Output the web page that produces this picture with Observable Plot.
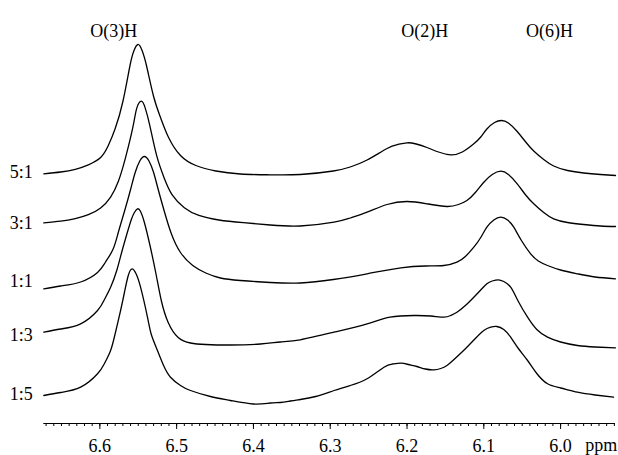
<!DOCTYPE html>
<html><head><meta charset="utf-8">
<script src="https://cdn.jsdelivr.net/npm/d3@7"></script>
<script src="https://cdn.jsdelivr.net/npm/@observablehq/plot@0.6"></script>
<style>html,body{margin:0;padding:0;background:#fff;}</style>
</head><body><div id="chart"></div>
<script>
// Sample ratios (top to bottom)
const ratios = ["5:1", "3:1", "1:1", "1:3", "1:5"];

// 5:1 trace
const ppm51 = [6.673,6.651,6.632,6.615,6.599,6.589,6.580,6.570,6.561,6.556,6.5505,6.545,6.539,6.530,6.521,6.5105,6.495,6.475,6.449,6.417,6.378,6.339,6.296,6.274,6.252,6.226,6.212,6.200,6.188,6.174,6.159,6.143,6.128,6.113,6.104,6.096,6.086,6.077,6.068,6.0565,6.046,6.035,6.022,6.009,5.991,5.970,5.948,5.9285];
const int51 = [249.7,251.5,254.2,258.7,266,278,295,322,357,372,379,373,357,327,306,286,268,258,252.5,249.5,248.7,249,252.5,256.5,263.5,275,279,280.7,279.5,276,271.5,268.7,271.5,279.7,286.5,294.5,301,303,300.5,292,282,272.5,264,257.5,253,250.5,249,248];

// 3:1 trace
const ppm31 = [6.673,6.651,6.632,6.615,6.599,6.586,6.576,6.567,6.557,6.552,6.546,6.541,6.535,6.526,6.516,6.506,6.490,6.471,6.445,6.413,6.378,6.339,6.295,6.274,6.252,6.226,6.200,6.174,6.148,6.133,6.122,6.111,6.100,6.089,6.078,6.068,6.0565,6.046,6.035,6.022,6.009,5.991,5.970,5.948,5.9285];
const int31 = [200.6,202.3,204.9,208.8,215.6,226.4,242,264.6,296.3,315.1,322.3,315.6,298.1,267.8,245.1,228.9,215.8,208.1,203.5,200.8,198.5,197.5,201.3,205.5,211.3,219,222,219.7,217,219,223,231,241.3,249,252.3,249,239.7,229,219.7,211,204.7,201,199,197.5,197];

// 1:1 trace
const ppm11 = [6.673,6.651,6.625,6.603,6.593,6.583,6.576,6.568,6.560,6.554,6.548,6.542,6.536,6.530,6.524,6.516,6.507,6.495,6.479,6.462,6.443,6.417,6.378,6.339,6.296,6.252,6.208,6.176,6.152,6.135,6.124,6.113,6.104,6.096,6.087,6.078,6.069,6.061,6.051,6.039,6.029,6.017,6.000,5.978,5.955,5.9285];
const int11 = [134.7,137.5,141.5,151,161,174,191,212,234,251,262.5,267,262.5,251,234,212,190,171,158,150.5,145.5,143,141,140.5,144,149.7,155.7,157.5,158,161.3,167,176.3,186,196.3,203.5,206.3,203.5,196.3,183,169.7,162.5,158,153.5,149.7,146.5,144.7];

// 1:3 trace
const ppm13 = [6.673,6.651,6.625,6.603,6.594,6.586,6.578,6.572,6.565,6.559,6.555,6.551,6.547,6.542,6.535,6.527,6.520,6.511,6.498,6.482,6.462,6.430,6.391,6.365,6.339,6.295,6.252,6.222,6.191,6.169,6.152,6.143,6.135,6.124,6.113,6.104,6.096,6.089,6.081,6.074,6.065,6.055,6.043,6.031,6.017,6.000,5.978,5.955,5.9285];
const int13 = [91.3,94.5,99.7,113,124,136.3,153,170,189,204,211,214.7,212,201,179,150,123,101,86,80.5,79,78.5,79.5,81.5,83.7,91.3,99.7,106.3,108,107.5,106.3,108,111.3,118,126.3,133.5,139.7,142.5,143.7,142,136.3,122,106.3,94,86.3,81.5,78,76.5,75.7];

// 1:5 trace
const ppm15 = [6.673,6.651,6.625,6.603,6.594,6.586,6.580,6.573,6.568,6.563,6.558,6.553,6.547,6.538,6.533,6.525,6.517,6.508,6.495,6.482,6.456,6.430,6.400,6.378,6.365,6.352,6.339,6.319,6.295,6.274,6.252,6.230,6.219,6.208,6.198,6.187,6.176,6.165,6.156,6.148,6.136,6.122,6.111,6.100,6.091,6.083,6.074,6.065,6.055,6.043,6.031,6.017,6.000,5.978,5.955,5.931];
const int15 = [28,31,36.3,49.7,60,73,90,113,131,148,154.7,150,136.3,106.3,89,73,58,46.3,38,33,27,23,19.5,20.5,21,22.5,24,27,33,38,44.7,56.3,59.5,60.3,59,57,54.5,53.7,55,58,66,76.3,85,93,96.3,97,94,86.3,75,63,50,39.7,35.5,31.3,28.5,26.3];

// Peak annotations
const peakNames = ["O(3)H", "O(2)H", "O(6)H"];
const peakPpm = [6.582, 6.177, 6.0145];

// Axis ticks
const majorTicks = [6.6, 6.5, 6.4, 6.3, 6.2, 6.1, 6.0];
const minorTicks = d3.range(593, 668).map(i => i / 100);
const axisUnit = "ppm";

const traces = [[ppm51, int51], [ppm31, int31], [ppm11, int11], [ppm13, int13], [ppm15, int15]];
const rows = traces.flatMap(([p, v], i) => p.map((x, j) => ({ratio: ratios[i], ppm: x, value: v[j]})));
const labelNudge = [1.6, 0, 7.6, -3, 0.8];
const labelRows = traces.map(([p, v], i) => ({ratio: ratios[i], ppm: p[0], value: v[0] + labelNudge[i]}));

const chart = Plot.plot({
  width: 618, height: 455,
  marginLeft: 43.3, marginRight: 3, marginTop: 0, marginBottom: 32,
  x: {domain: [6.673, 5.9285]},
  y: {domain: [0, 423], axis: null},
  style: {fontFamily: '"Liberation Serif", "Times New Roman", serif', fontSize: "18px", background: "#fff", color: "#000", overflow: "visible"},
  marks: [
    Plot.ruleY([0], {stroke: "#000", strokeWidth: 1}),
    Plot.axisX(minorTicks, {tickSize: 3, tickFormat: () => "", label: null, stroke: "#000"}),
    Plot.axisX(majorTicks, {tickSize: 6, tickPadding: 10, tickFormat: d => d.toFixed(1), label: null, stroke: "#000", fill: "#000"}),
    Plot.line(rows, {x: "ppm", y: "value", z: "ratio", curve: "natural", stroke: "#000", strokeWidth: 1.3}),
    Plot.text(labelRows, {x: "ppm", y: "value", text: "ratio", textAnchor: "end", dx: -11, fill: "#000"}),
    Plot.text(peakNames, {x: (d, i) => peakPpm[i], frameAnchor: "top", dy: 24, text: d => d, fill: "#000"}),
    Plot.text([axisUnit], {x: 5.947, y: -22, text: d => d, fill: "#000"})
  ]
});
document.getElementById("chart").appendChild(chart);
</script>
</body></html>
